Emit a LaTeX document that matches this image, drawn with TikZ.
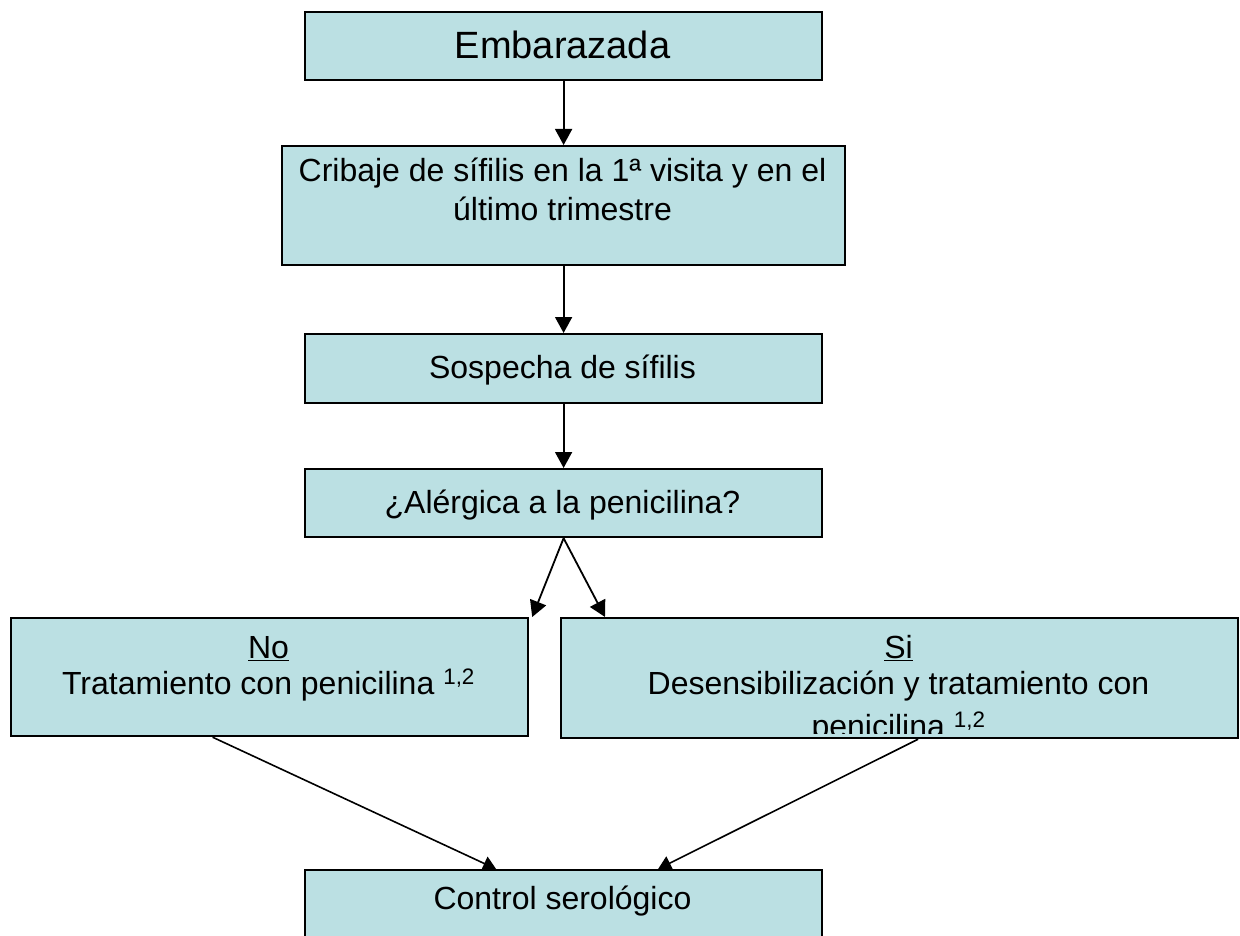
\documentclass[tikz,border=0pt]{standalone}
\usepackage{fontspec}
\setmainfont{Liberation Sans}
\usetikzlibrary{arrows.meta,calc}
\definecolor{boxfill}{RGB}{187,224,227}
\begin{document}
\begin{tikzpicture}[x=1pt,y=-1pt,
  box/.style={draw=black, line width=2.2pt, fill=boxfill, inner sep=0pt, anchor=north west},
  txt/.style={inner sep=0pt, anchor=base, font=\fontsize{32}{37}\selectfont},
  arr/.style={-{Triangle[length=16pt,width=17pt]}, line width=1.8pt},
  arrd/.style={-{Triangle[length=13pt,width=15pt]}, line width=1.6pt}]
\useasboundingbox (0,0) rectangle (1240,936);
\clip (0,0) rectangle (1240,936);
% boxes
\node[box, minimum width=517pt, minimum height=68pt]  (emb)   at (304,11)  {};
\node[box, minimum width=563pt, minimum height=119pt] (crib)  at (281,145) {};
\node[box, minimum width=517pt, minimum height=69pt]  (sosp)  at (304,333) {};
\node[box, minimum width=517pt, minimum height=68pt]  (alerg) at (304,468) {};
\node[box, minimum width=517pt, minimum height=118pt] (no)    at (10,617)  {};
\node[box, minimum width=677pt, minimum height=120pt] (si)    at (560,617) {};
\node[box, minimum width=517pt, minimum height=110pt] (ctrl)  at (304,869) {};
% texts
\node[txt, font=\fontsize{38}{43}\selectfont] (embT) at (562.5,59) {Embarazada};
\node[txt] (cribA) at (562.5,182) {Cribaje de sífilis en la 1ª visita y en el};
\node[txt] (cribB) at (562.5,221) {último trimestre};
\node[txt] (sospT) at (562.5,378) {Sospecha de sífilis};
\node[txt] (alergT) at (562.5,513) {¿Alérgica a la penicilina?};
\node[txt] (noA) at (268.5,658) {\underline{No}};
\node[txt] (noB) at (268.5,694) {Tratamiento con penicilina \textsuperscript{1,2}};
\node[txt] (siA) at (898.5,658) {\underline{Si}};
\node[txt] (siB) at (898.5,694) {Desensibilización y tratamiento con};
\begin{scope}
  \clip (si.north west) rectangle ($(si.south east)+(0,-6)$);
  \node[txt] (siC) at (898.5,737) {penicilina \textsuperscript{1,2}};
\end{scope}
\node[txt] (ctrlT) at (562.5,909) {Control serológico};
% connectors
\coordinate (noTip) at ($(no.north east)+(3,0)$);
\coordinate (siTip) at ($(si.north west)+(45,0)$);
\coordinate (noOut) at ($(no.south)+(-57,0)$);
\coordinate (siOut) at ($(si.south)+(18.5,0)$);
\coordinate (ctrlL) at ($(ctrl.north)+(-67.5,0)$);
\coordinate (ctrlR) at ($(ctrl.north)+(94.5,0)$);
\draw[arr] (emb.south) -- (crib.north);
\draw[arr] (crib.south) -- (sosp.north);
\draw[arr] (sosp.south) -- (alerg.north);
\draw[arr] (alerg.south) -- (noTip);
\draw[arr] (alerg.south) -- (siTip);
\draw[arrd] (noOut) -- (ctrlL);
\draw[arrd] (siOut) -- (ctrlR);
\end{tikzpicture}
\end{document}
